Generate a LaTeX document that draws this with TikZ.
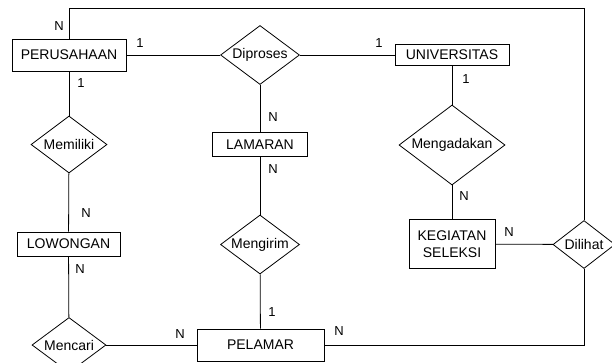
\documentclass[tikz,border=0pt]{standalone}
\usepackage{fontspec}
\setmainfont{Liberation Sans}
\usetikzlibrary{shapes.geometric}

\tikzset{
    entity/.style={draw, rectangle, inner sep=2pt, font=\fontsize{14}{17}\selectfont},
    relation/.style={draw, diamond, inner sep=0pt, shape aspect=1.35, font=\fontsize{14}{17}\selectfont},
    card/.style={inner sep=0pt, font=\fontsize{13}{15}\selectfont}
}

\begin{document}
\begin{tikzpicture}[x=1pt, y=-1pt, line width=0.8pt]
    \useasboundingbox (0,0) rectangle (612,362);

    % Entities
    \node[entity, minimum width=114pt, minimum height=32pt] (perusahaan) at (69,55) {PERUSAHAAN};
    \node[entity, minimum width=114pt, minimum height=21pt] (universitas) at (452,55) {UNIVERSITAS};
    \node[entity, minimum width=95pt, minimum height=24pt] (lamaran) at (260,144.5) {LAMARAN};
    \node[entity, minimum width=103pt, minimum height=24pt] (lowongan) at (68.5,244) {LOWONGAN};
    \node[entity, minimum width=86pt, minimum height=49pt, align=center] (kegiatan) at (452,244) {KEGIATAN\\SELEKSI};
    \node[entity, minimum width=127pt, minimum height=32pt] (pelamar) at (260.5,345) {PELAMAR};

    % Relations
    \node[relation, minimum width=79pt, minimum height=59pt] (diproses) at (260,55) {Diproses};
    \node[relation, minimum width=76pt, minimum height=57pt] (memiliki) at (69,144.5) {Memiliki};
    \node[relation, minimum width=79pt, minimum height=59pt] (mengirim) at (260,244.5) {Mengirim};
    \node[relation, minimum width=74pt, minimum height=55pt] (mencari) at (69,345) {Mencari};
    \node[relation, minimum width=106pt, minimum height=80pt] (mengadakan) at (452,145) {Mengadakan};
    \node[relation, minimum width=62pt, minimum height=48pt] (dilihat) at (584,244.5) {Dilihat};

    % Connectors
    \draw (perusahaan) -- (diproses);
    \draw (diproses) -- (universitas);
    \draw (diproses) -- (lamaran);
    \draw (lamaran) -- (mengirim);
    \draw (mengirim) -- (pelamar);
    \draw (perusahaan) -- (memiliki);
    \draw (memiliki) -- (lowongan);
    \draw (lowongan) -- (mencari);
    \draw (mencari) -- (pelamar);
    \draw (universitas) -- (mengadakan);
    \draw (mengadakan) -- (kegiatan);
    \draw (kegiatan) -- (dilihat);
    \coordinate (toprow) at (300,8.5);
    \draw (perusahaan.north) |- (toprow) -| (dilihat.north);
    \draw (pelamar.east) -| (dilihat.south);

    % Cardinalities
    \node[card] (cPerTop) at (59,26) {N};
    \node[card] (cPerRight) at (140,43) {1};
    \node[card] (cPerBottom) at (81,83) {1};
    \node[card] (cUniLeft) at (379,43) {1};
    \node[card] (cUniBottom) at (466,79) {1};
    \node[card] (cLamTop) at (273,117) {N};
    \node[card] (cLamBottom) at (273,169) {N};
    \node[card] (cLowTop) at (86,213) {N};
    \node[card] (cLowBottom) at (80,269) {N};
    \node[card] (cPelTop) at (272,312) {1};
    \node[card] (cPelLeft) at (180,334) {N};
    \node[card] (cPelRight) at (339,331) {N};
    \node[card] (cKegTop) at (464,196) {N};
    \node[card] (cKegRight) at (509,232) {N};
\end{tikzpicture}
\end{document}
